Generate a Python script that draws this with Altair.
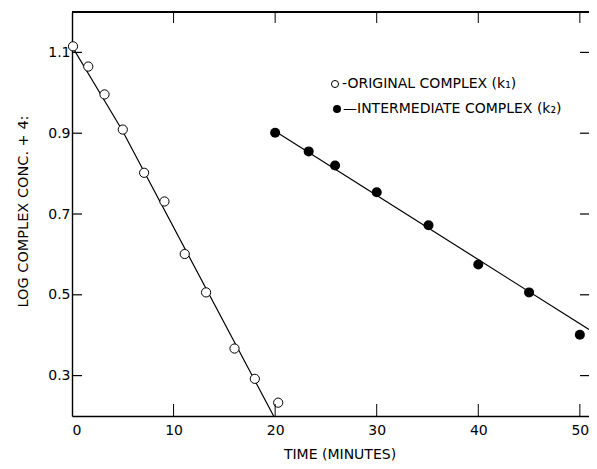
import altair as alt
import pandas as pd

# Open circles: original complex (k1)
orig_t = [0.1, 1.6, 3.2, 5.0, 7.1, 9.1, 11.1, 13.2, 16.0, 18.0, 20.3]
orig_y = [1.115, 1.065, 0.996, 0.909, 0.802, 0.731, 0.601, 0.506, 0.367, 0.292, 0.233]
# Filled circles: intermediate complex (k2)
inter_t = [20.0, 23.3, 25.9, 30.0, 35.1, 40.0, 45.0, 50.0]
inter_y = [0.901, 0.855, 0.820, 0.754, 0.672, 0.575, 0.506, 0.401]
# Drawn lines
fit1_t = [0.0, 4.9, 19.85]
fit1_y = [1.115, 0.909, 0.2]
fit2_t = [20.0, 50.9]
fit2_y = [0.905, 0.414]
# Ticks
x_ticks = [0, 10, 20, 30, 40, 50]
x_inner_ticks = [10, 20, 30, 40, 50]
y_ticks = [0.3, 0.5, 0.7, 0.9, 1.1]

legend_1 = "-ORIGINAL COMPLEX (k\u2081)"
legend_2 = "\u2014INTERMEDIATE COMPLEX (k\u2082)"

W, H = 517, 404
FONT = "DejaVu Sans"

xs = alt.Scale(domain=[0, 50.9], nice=False, zero=False)
ys = alt.Scale(domain=[0.2, 1.2], nice=False, zero=False)

orig = pd.DataFrame({"t": orig_t, "y": orig_y})
inter = pd.DataFrame({"t": inter_t, "y": inter_y})
fit1 = pd.DataFrame({"t": fit1_t, "y": fit1_y})
fit2 = pd.DataFrame({"t": fit2_t, "y": fit2_y})
xt = pd.DataFrame({"t": x_inner_ticks})
yt = pd.DataFrame({"y": y_ticks})

x_axis = alt.Axis(values=x_ticks, ticks=False, grid=False, domainColor="black",
                  domainWidth=1.6, labelFontSize=14, labelPadding=7, labelColor="black",
                  labelFont=FONT, title="TIME (MINUTES)_", titleFont=FONT,
                  titleFontSize=14, titleFontWeight="normal", titleColor="black",
                  titleX=271, titleY=38, titleBaseline="middle", titleAlign="center")
y_axis = alt.Axis(values=y_ticks, format=".1f", ticks=False, grid=False,
                  domainColor="black", domainWidth=1.4, labelFontSize=14,
                  labelPadding=2, labelColor="black", labelFont=FONT,
                  title="LOG COMPLEX CONC. + 4:", titleFont=FONT, titleFontSize=14.5,
                  titleFontWeight="normal", titleColor="black", titleAngle=270,
                  titleX=-49, titleY=199, titleBaseline="middle", titleAlign="center")

line1 = alt.Chart(fit1).mark_line(color="black", strokeWidth=1.2, clip=True).encode(
    x=alt.X("t:Q", scale=xs, axis=x_axis), y=alt.Y("y:Q", scale=ys, axis=y_axis))
line2 = alt.Chart(fit2).mark_line(color="black", strokeWidth=1.2, clip=True).encode(
    x=alt.X("t:Q", scale=xs), y=alt.Y("y:Q", scale=ys))

pts1 = alt.Chart(orig).mark_point(shape="circle", filled=True, fill="white",
                                  stroke="black", strokeWidth=1, size=85, opacity=1).encode(
    x=alt.X("t:Q", scale=xs), y=alt.Y("y:Q", scale=ys))
pts2 = alt.Chart(inter).mark_circle(color="black", size=100, opacity=1).encode(
    x=alt.X("t:Q", scale=xs), y=alt.Y("y:Q", scale=ys))

# frame top line
top = alt.Chart(xt).mark_rule(color="black", strokeWidth=1.4).encode(
    x=alt.value(0), x2=alt.value(W), y=alt.value(0))

bt = alt.Chart(xt).mark_rule(color="black", strokeWidth=1).encode(
    x=alt.X("t:Q", scale=xs), y=alt.value(H), y2=alt.value(H - 12))
tt = alt.Chart(xt).mark_rule(color="black", strokeWidth=1).encode(
    x=alt.X("t:Q", scale=xs), y=alt.value(0), y2=alt.value(11))
lt = alt.Chart(yt).mark_rule(color="black", strokeWidth=1.2).encode(
    y=alt.Y("y:Q", scale=ys), x=alt.value(0), x2=alt.value(10))
rt = alt.Chart(yt).mark_rule(color="black", strokeWidth=1.2).encode(
    y=alt.Y("y:Q", scale=ys), x=alt.value(W - 9), x2=alt.value(W))

leg_df = pd.DataFrame({"a": [0]})
lc1 = alt.Chart(leg_df).mark_point(shape="circle", filled=True, fill="white",
                                   stroke="black", strokeWidth=1, size=50, opacity=1).encode(
    x=alt.value(263), y=alt.value(72))
lc2 = alt.Chart(leg_df).mark_circle(color="black", size=65, opacity=1).encode(
    x=alt.value(265), y=alt.value(97))
lt1 = alt.Chart(leg_df).mark_text(text=legend_1, align="left", baseline="middle",
                                  font=FONT, fontSize=14, color="black").encode(
    x=alt.value(270), y=alt.value(72))
lt2 = alt.Chart(leg_df).mark_text(text=legend_2, align="left", baseline="middle",
                                  font=FONT, fontSize=14, color="black").encode(
    x=alt.value(271), y=alt.value(97))

chart = alt.layer(line1, line2, pts1, pts2, top, bt, tt, lt, rt,
                  lc1, lc2, lt1, lt2).properties(
    width=W, height=H,
    autosize=alt.AutoSizeParams(type="none"),
    padding={"left": 64, "top": 4, "right": 0, "bottom": 45},
    background="white",
).configure_view(stroke=None)

chart.save("out.html", embed_options={"renderer": "svg", "actions": False})
